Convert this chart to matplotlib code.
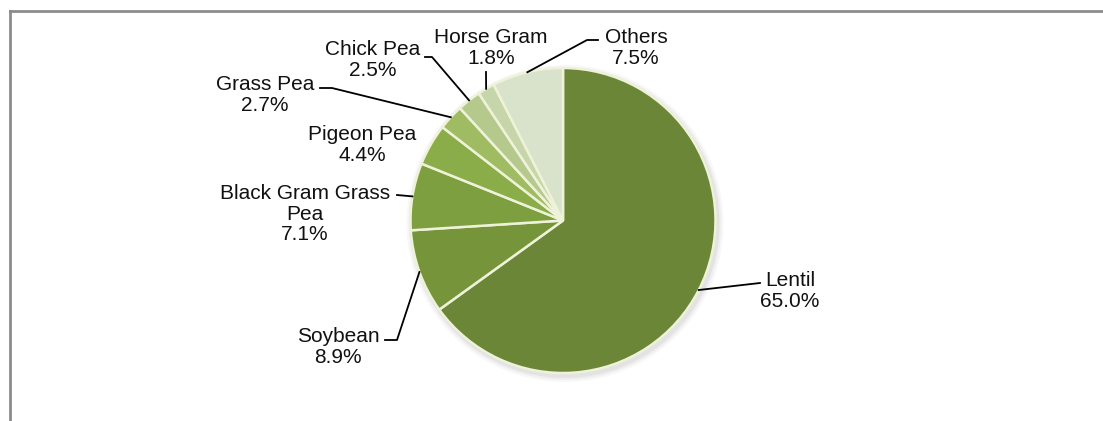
import matplotlib.pyplot as plt
from matplotlib.patches import Circle
import numpy as np

# ========================
# DATA
# ========================
crops = ["Lentil", "Soybean", "Black Gram Grass Pea", "Pigeon Pea",
         "Grass Pea", "Chick Pea", "Horse Gram", "Others"]
shares = [65.0, 8.9, 7.1, 4.4, 2.7, 2.5, 1.8, 7.5]
label_names = ["Lentil", "Soybean", "Black Gram Grass\nPea", "Pigeon Pea",
               "Grass Pea", "Chick Pea", "Horse Gram", "Others"]

# ========================
# STYLE
# ========================
COLORS = ["#6B8636", "#76953A", "#7E9F3F", "#8BAD49",
          "#A0BC62", "#B5C98C", "#C7D5AA", "#D9E2CA"]
EDGE = "#EEF2D8"
W, H = 1103, 421

plt.rcParams['font.family'] = ['Liberation Sans', 'DejaVu Sans']

fig = plt.figure(figsize=(W / 100, H / 100), dpi=100)
ax = fig.add_axes([0, 0, 1, 1])

cx, cy, r = 563, 220.5, 152.5

# soft shadow
for dr, a in [(6, 0.05), (4, 0.07), (2, 0.10)]:
    ax.add_patch(Circle((cx + 2, cy + 3), r + dr, color="#7a7a7a", alpha=a, lw=0, zorder=0))

wedges, _ = ax.pie(shares, colors=COLORS, startangle=-90, counterclock=True,
                   center=(cx, cy), radius=r,
                   wedgeprops=dict(edgecolor=EDGE, linewidth=1.8))

# ========================
# LABELS (text block centre, elbow point or None)
# ========================
text_pos = [(790, 291), (338, 347), (305, 214), (362, 145),
            (265, 95), (373, 60), (491, 48), (636, 48)]
elbows = [[(760, 283)],
          [(397, 340), (385, 340)],
          [(397, 195)],
          None,
          [(332, 88), (320, 88)],
          [(432, 57), (425, 57)],
          [(486, 72)],
          [(587, 40), (598, 40)]]

for w, name, v, (tx, ty), el in zip(wedges, label_names, shares, text_pos, elbows):
    ax.text(tx, ty, f"{name}\n{v:.1f}%", ha='center', va='center',
            fontsize=15, linespacing=1.1, color="#111111")
    if el is None:
        continue
    mid = np.deg2rad((w.theta1 + w.theta2) / 2)
    sx = cx + r * np.cos(mid)
    sy = cy + r * np.sin(mid)
    xs = [sx] + [p[0] for p in el]
    ys = [sy] + [p[1] for p in el]
    ax.plot(xs, ys, color="black", lw=1.3, zorder=5)

# chart frame (top and left edges visible)
ax.plot([10, W], [11, 11], color="#8c8c8c", lw=2, clip_on=False)
ax.plot([10, 10], [11, H], color="#8c8c8c", lw=2, clip_on=False)

ax.set_xlim(0, W)
ax.set_ylim(H, 0)
ax.set_aspect('auto')
ax.axis('off')

plt.savefig("out.png", dpi=100)
plt.close()
